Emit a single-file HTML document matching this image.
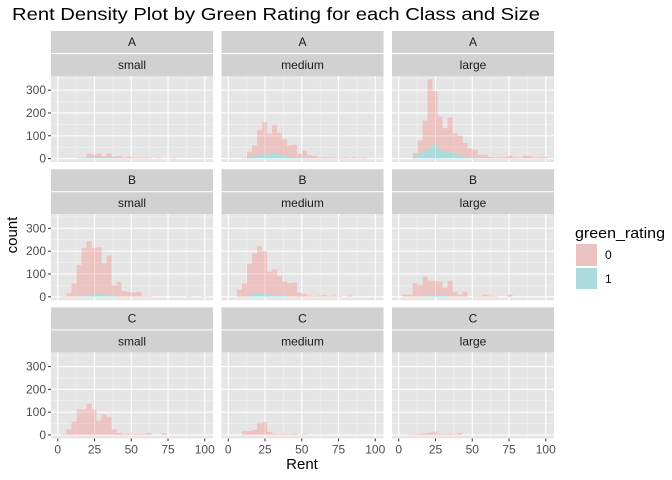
<!DOCTYPE html>
<html><head><meta charset="utf-8"><style>
body{margin:0;background:#fff}
svg{display:block;font-family:"Liberation Sans",Arial,sans-serif}
</style></head><body>
<svg id="chart" width="672" height="480" xmlns="http://www.w3.org/2000/svg">
<text x="12" y="20" font-size="17.5" textLength="528" lengthAdjust="spacingAndGlyphs" fill="#000">Rent Density Plot by Green Rating for each Class and Size</text>
<text transform="translate(17,235) rotate(-90)" text-anchor="middle" font-size="15" fill="#000">count</text>
<text x="302" y="469" text-anchor="middle" font-size="15" fill="#000">Rent</text>
<g>
<text x="575" y="238" font-size="14.5" textLength="90" lengthAdjust="spacingAndGlyphs" fill="#000">green_rating</text>
<rect x="576" y="244" width="21" height="22" fill="#e5e5e5"/>
<rect x="576" y="244" width="21" height="22" fill="#F8766D" fill-opacity="0.3"/>
<rect x="576" y="268" width="21" height="21" fill="#e5e5e5"/>
<rect x="576" y="268" width="21" height="21" fill="#00BFC4" fill-opacity="0.25"/>
<text x="605" y="259" font-size="12" fill="#000">0</text>
<text x="605" y="283" font-size="12" fill="#000">1</text>
</g>
<g id="panels"></g>
</svg>
<script>
const classes = ["A","B","C"];
const sizes = ["small","medium","large"];
const binStart = 2.6;
const binWidth = 3.4;
const xTicks = [0,25,50,75,100];
const yTicks = [0,100,200,300];
// total counts (green_rating 0) per bin, index from binStart
const g0_A_small  = [0,0,0,3,5,22,17,22,10,22,8,12,5,8,4,4,4,5,0,3,0,0,3,0,0,0,0,0,0];
const g0_A_medium = [0,0,3,30,57,124,160,110,146,113,85,57,61,20,35,15,12,5,5,5,5,3,5,3,5,3,5,0,0];
const g0_A_large  = [0,0,24,79,166,348,296,184,134,180,112,101,69,45,39,16,16,7,5,5,7,12,5,5,12,12,5,5,8];
const g0_B_small  = [3,15,58,140,214,244,214,217,147,181,50,65,25,21,18,22,3,3,0,0,0,0,0,0,0,3,0,0,3];
const g0_B_medium = [0,30,58,145,190,222,200,110,120,92,67,60,62,18,13,5,3,5,8,3,5,3,0,5,0,0,0,0,0];
const g0_B_large  = [10,10,60,52,88,70,70,67,40,70,22,10,22,0,3,3,10,5,3,0,0,10,0,0,0,0,0,0,0];
const g0_C_small  = [3,24,58,112,112,137,112,63,90,78,24,9,3,5,3,5,3,8,0,0,8,0,0,0,0,0,0,0,0];
const g0_C_medium = [0,0,17,17,22,52,58,14,5,3,5,3,5,0,3,0,0,0,0,0,0,0,0,0,0,0,0,0,0];
const g0_C_large  = [0,3,3,5,8,10,15,5,3,5,3,10,0,0,0,0,0,0,0,0,0,0,0,0,0,0,0,0,0];
// green_rating 1 counts per bin (stacked at bottom)
const g1_A_small  = [0,0,0,0,2,3,3,3,2,2,2,1,0,0,0,0,0,0,0,0,0,0,0,0,0,0,0,0,0];
const g1_A_medium = [0,0,0,5,10,15,20,18,25,22,15,10,6,3,2,0,0,0,0,0,0,0,0,0,0,0,0,0,0];
const g1_A_large  = [0,0,8,20,35,45,63,40,30,28,25,15,8,5,3,0,0,0,0,0,0,0,0,0,0,0,0,0,0];
const g1_B_small  = [0,0,0,3,5,8,10,15,10,8,5,0,0,0,0,0,0,0,0,0,0,0,0,0,0,0,0,0,0];
const g1_B_medium = [0,0,0,8,12,15,12,10,8,6,4,0,0,0,0,0,0,0,0,0,0,0,0,0,0,0,0,0,0];
const g1_B_large  = [0,0,0,0,8,8,8,8,8,0,0,0,0,0,0,0,0,0,0,0,0,0,0,0,0,0,0,0,0];
const g1_C_small  = [0,0,0,0,0,0,0,0,0,0,0,0,0,0,0,0,0,0,0,0,0,0,0,0,0,0,0,0,0];
const g1_C_medium = [0,0,0,0,0,0,0,0,0,0,0,0,0,0,0,0,0,0,0,0,0,0,0,0,0,0,0,0,0];
const g1_C_large  = [0,0,0,0,0,0,0,0,0,0,0,0,0,0,0,0,0,0,0,0,0,0,0,0,0,0,0,0,0];

const series0 = {A:[g0_A_small,g0_A_medium,g0_A_large],B:[g0_B_small,g0_B_medium,g0_B_large],C:[g0_C_small,g0_C_medium,g0_C_large]};
const series1 = {A:[g1_A_small,g1_A_medium,g1_A_large],B:[g1_B_small,g1_B_medium,g1_B_large],C:[g1_C_small,g1_C_medium,g1_C_large]};

const NS="http://www.w3.org/2000/svg";
const root=document.getElementById('panels');
const colX=[51,221.5,392], pW=162;
const rowY=[31,169.2,307.4], stripH=45, pH=86;
const xDom=[-4.6,105.6], yDom=[-15,362];
function mk(t,a,p){const e=document.createElementNS(NS,t);for(const k in a)e.setAttribute(k,a[k]);(p||root).appendChild(e);return e;}
function xs(c,v){return colX[c]+(v-xDom[0])/(xDom[1]-xDom[0])*pW;}
function ys(r,v){const top=rowY[r]+stripH;return top+pH-(v-yDom[0])/(yDom[1]-yDom[0])*pH;}

classes.forEach((cl,r)=>{
  sizes.forEach((sz,c)=>{
    const g=mk('g',{});
    
    
    const x0=colX[c], top=rowY[r]+stripH;
    const s1=mk('rect',{x:x0,y:rowY[r],width:pW,height:22,fill:'#d1d1d1'},g);
    
    
    const s2=mk('rect',{x:x0,y:rowY[r]+23,width:pW,height:22,fill:'#d1d1d1'},g);
    
    
    const t1=mk('text',{x:x0+pW/2,y:rowY[r]+15,'text-anchor':'middle','font-size':'12','fill':'#1a1a1a'},g);
    t1.textContent=cl;
    
    
    const t2=mk('text',{x:x0+pW/2,y:rowY[r]+38,'text-anchor':'middle','font-size':'12','fill':'#1a1a1a'},g);
    t2.textContent=sz;
    
    
    const bg=mk('rect',{x:x0,y:top,width:pW,height:pH,fill:'#e5e5e5'},g);
    
    
    for(let v=12.5;v<105;v+=25){const l=mk('line',{x1:xs(c,v),x2:xs(c,v),y1:top,y2:top+pH,stroke:'#f2f2f2','stroke-width':0.6},g);}
    for(let v=50;v<362;v+=100){const l=mk('line',{x1:x0,x2:x0+pW,y1:ys(r,v),y2:ys(r,v),stroke:'#f2f2f2','stroke-width':0.6},g);}
    xTicks.forEach(v=>{const l=mk('line',{x1:xs(c,v),x2:xs(c,v),y1:top,y2:top+pH,stroke:'#fff','stroke-width':1.1},g);});
    yTicks.forEach(v=>{const l=mk('line',{x1:x0,x2:x0+pW,y1:ys(r,v),y2:ys(r,v),stroke:'#fff','stroke-width':1.1},g);});
    const a1=series1[cl][c], a0=series0[cl][c];
    for(let i=0;i<a0.length;i++){
      const xl=xs(c,binStart+i*binWidth), xr=xs(c,binStart+(i+1)*binWidth);
      const v1=a1[i], v0=a0[i];
      if(v1>0){const b=mk('rect',{x:xl,y:ys(r,v1),width:xr-xl,height:ys(r,0)-ys(r,v1),fill:'#00BFC4','fill-opacity':0.25},g);}
      const base=v1, tot=Math.max(v0,v1);
      if(tot>base){const b=mk('rect',{x:xl,y:ys(r,tot),width:xr-xl,height:ys(r,base)-ys(r,tot),fill:'#F8766D','fill-opacity':0.3},g);}
    }
    if(c===0){
      yTicks.forEach(v=>{
        const tk=mk('line',{x1:x0-3,x2:x0,y1:ys(r,v),y2:ys(r,v),stroke:'#333','stroke-width':1},g);
        
        
        const tl=mk('text',{x:x0-5,y:ys(r,v)+4,'text-anchor':'end','font-size':'12','fill':'#4d4d4d'},g);
        tl.textContent=v;
        
        
      });
    }
    if(r===2){
      xTicks.forEach(v=>{
        const tk=mk('line',{x1:xs(c,v),x2:xs(c,v),y1:top+pH,y2:top+pH+3,stroke:'#333','stroke-width':1},g);
        
        
        const tl=mk('text',{x:xs(c,v),y:top+pH+15,'text-anchor':'middle','font-size':'12','fill':'#4d4d4d'},g);
        tl.textContent=v;
        
        
      });
    }
  });
});
</script>
</body></html>
